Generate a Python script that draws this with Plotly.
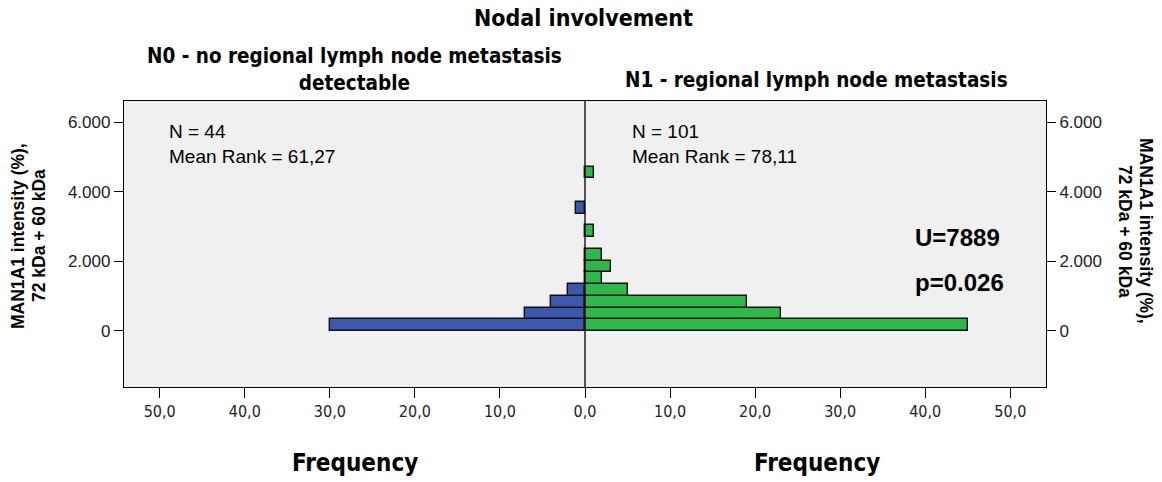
import plotly.graph_objects as go

# Histogram bins (MAN1A1 intensity, bin centers) and frequencies
bin_width = 337
bin_index = list(range(14))
bin_centers = [(k + 0.5) * bin_width for k in bin_index]
n0_counts = [30, 7, 4, 2, 0, 0, 0, 0, 0, 0, 1, 0, 0, 0]
n1_counts = [45, 23, 19, 5, 2, 3, 2, 0, 1, 0, 0, 0, 0, 1]

x_tick_vals = [-50, -40, -30, -20, -10, 0, 10, 20, 30, 40, 50]
x_tick_text = ["50,0", "40,0", "30,0", "20,0", "10,0", "0,0", "10,0", "20,0", "30,0", "40,0", "50,0"]
y_tick_vals = [0, 2000, 4000, 6000]
y_tick_text = ["0", "2.000", "4.000", "6.000"]

BLUE = "#3c58ad"
GREEN = "#2fb84a"
NARROW = "Liberation Sans Narrow, Arial Narrow, DejaVu Sans Condensed, sans-serif"
ARIAL = "Liberation Sans, Arial, sans-serif"

yrange = [-1608, 6603]
xrange = [-54.2, 54.2]

fig = go.Figure()
ys0 = [c for c, v in zip(bin_centers, n0_counts) if v > 0]
xs0 = [-v for v in n0_counts if v > 0]
ys1 = [c for c, v in zip(bin_centers, n1_counts) if v > 0]
xs1 = [v for v in n1_counts if v > 0]

fig.add_trace(go.Bar(x=xs0, y=ys0, orientation="h", width=bin_width,
                     marker=dict(color=BLUE, line=dict(color="#111111", width=1.4)),
                     hoverinfo="skip", showlegend=False))
fig.add_trace(go.Bar(x=xs1, y=ys1, orientation="h", width=bin_width,
                     marker=dict(color=GREEN, line=dict(color="#111111", width=1.4)),
                     hoverinfo="skip", showlegend=False))
# invisible trace to activate right axis
fig.add_trace(go.Scatter(x=[0], y=[0], yaxis="y2", mode="markers",
                         marker=dict(opacity=0), hoverinfo="skip", showlegend=False))

fig.add_shape(type="line", xref="x", yref="paper", x0=0, x1=0, y0=0, y1=1,
              line=dict(color="black", width=1.3))

axis_font = dict(family=ARIAL, size=17, color="#222222")
fig.update_layout(
    width=1162, height=482,
    margin=dict(l=124, r=116, t=101, b=95),
    paper_bgcolor="white",
    plot_bgcolor="#f0f0f0",
    barmode="overlay",
    bargap=0,
    xaxis=dict(range=xrange, tickvals=x_tick_vals, ticktext=x_tick_text,
               showgrid=False, zeroline=False, showline=True, mirror=True,
               linecolor="black", linewidth=1.3, ticks="outside", ticklen=10,
               tickcolor="black", tickfont=dict(family=NARROW, size=16, color="#222222")),
    yaxis=dict(range=yrange, tickvals=y_tick_vals, ticktext=y_tick_text,
               showgrid=False, zeroline=False, showline=True, mirror=True,
               linecolor="black", linewidth=1.3, ticks="outside", ticklen=9,
               tickcolor="black", tickfont=axis_font),
    yaxis2=dict(range=yrange, tickvals=y_tick_vals, ticktext=y_tick_text,
                overlaying="y", side="right", showgrid=False, zeroline=False,
                showline=False, ticks="outside", ticklen=9, tickcolor="black",
                tickfont=axis_font),
)


def px_x(p):
    return (p - 124) / (1046 - 124)


def px_y(p):
    return (387 - p) / (387 - 101)


ytitle1 = "<b>MAN1A1 intensity (%),</b>"
ytitle2 = "<b>72 kDa + 60 kDa</b>"
ytfont = dict(family=ARIAL, size=17.5, color="black")

ann = [
    dict(text="<b>Nodal involvement</b>", x=px_x(583), y=px_y(18), font=dict(family=NARROW, size=23, color="black")),
    dict(text="<b>N0 - no regional lymph node metastasis<br>detectable</b>", x=px_x(354), y=px_y(69),
         font=dict(family=NARROW, size=20.5, color="black")),
    dict(text="<b>N1 - regional lymph node metastasis</b>", x=px_x(816), y=px_y(80),
         font=dict(family=NARROW, size=20.5, color="black")),
    dict(text="<b>Frequency</b>", x=px_x(355), y=px_y(463), font=dict(family=NARROW, size=24, color="black")),
    dict(text="<b>Frequency</b>", x=px_x(817), y=px_y(463), font=dict(family=NARROW, size=24, color="black")),
    dict(text=ytitle1, x=px_x(18), y=px_y(236), textangle=-90, font=ytfont),
    dict(text=ytitle2, x=px_x(39), y=px_y(236), textangle=-90, font=ytfont),
    dict(text=ytitle1, x=px_x(1146), y=px_y(231), textangle=90, font=ytfont),
    dict(text=ytitle2, x=px_x(1125), y=px_y(231), textangle=90, font=ytfont),
    dict(text="N = 44<br>Mean Rank = 61,27", x=px_x(167), y=px_y(144), xanchor="left", align="left",
         font=dict(family=ARIAL, size=19, color="black")),
    dict(text="N = 101<br>Mean Rank = 78,11", x=px_x(630), y=px_y(144), xanchor="left", align="left",
         font=dict(family=ARIAL, size=19, color="black")),
    dict(text="<b>U=7889</b>", x=px_x(913), y=px_y(237), xanchor="left",
         font=dict(family=ARIAL, size=24, color="black")),
    dict(text="<b>p=0.026</b>", x=px_x(913), y=px_y(282), xanchor="left",
         font=dict(family=ARIAL, size=24, color="black")),
]
for a in ann:
    a.update(xref="paper", yref="paper", showarrow=False)
    a.setdefault("xanchor", "center")
    a.setdefault("yanchor", "middle")
fig.update_layout(annotations=ann)

fig.write_html("out.html")
